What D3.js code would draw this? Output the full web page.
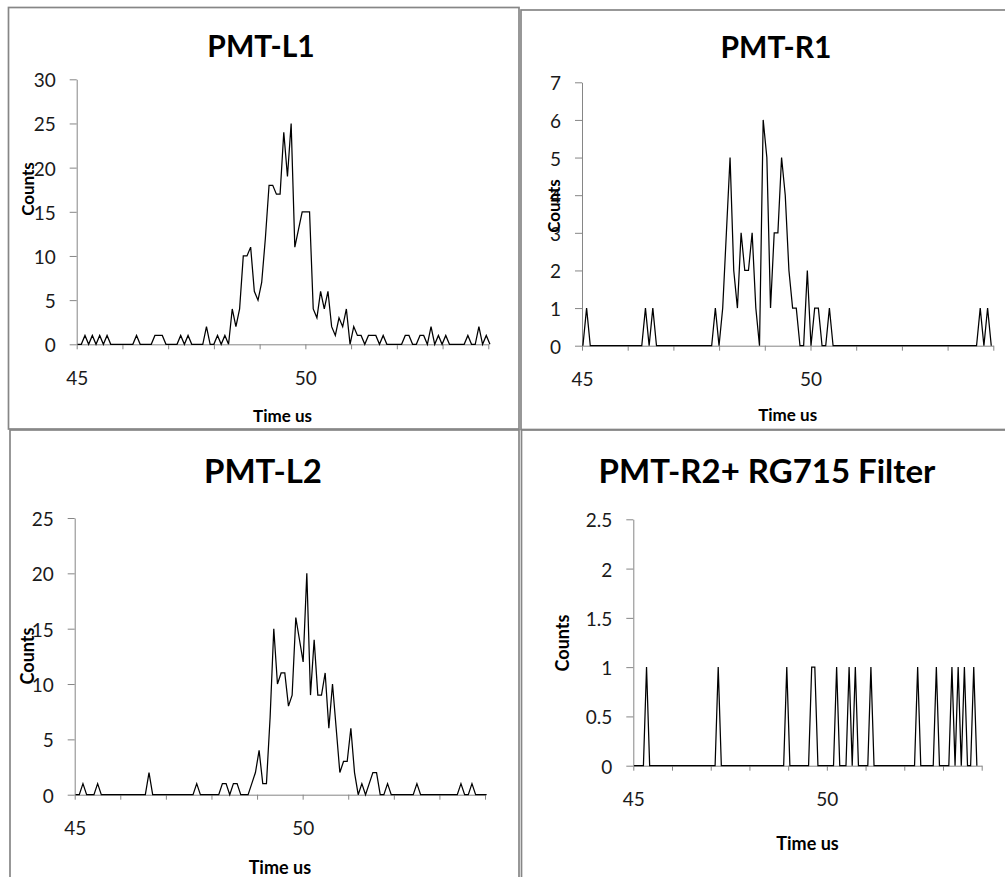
<!DOCTYPE html>
<html>
<head>
<meta charset="utf-8">
<script src="https://cdn.jsdelivr.net/npm/d3@7"></script>
<style>
  body { margin: 0; background: #fff; }
  svg { display: block; font-family: Lato, "Open Sans", sans-serif; }
</style>
</head>
<body>
<svg id="chart" width="1005" height="877"></svg>
<script>
// sample times: first bin and bin width (us)
const timeStart = 45.02;
const timeStep = 0.0805;

const titles = ["PMT-L1", "PMT-R1", "PMT-L2", "PMT-R2+ RG715 Filter"];

const countsL1 = [0,0,1,0,1,0,1,0,1,0,
  0,0,0,0,0,0,1,0,0,0,
  0,1,1,1,0,0,0,0,1,0,
  1,0,0,0,0,2,0,0,1,0,
  1,0,4,2,4,10,10,11,6,5,
  7,12,18,18,17,17,24,19,25,11,
  13,15,15,15,4,3,6,4,6,2,
  1,3,2,4,0,2,1,1,0,1,
  1,1,0,1,0,0,0,0,0,1,
  1,0,0,1,1,0,2,0,1,0,
  1,0,0,0,0,0,1,0,0,2,
  0,1,0];

const countsR1 = [0,1,0,0,0,0,0,0,0,0,
  0,0,0,0,0,0,0,1,0,1,
  0,0,0,0,0,0,0,0,0,0,
  0,0,0,0,0,0,1,0,1,3,
  5,2,1,3,2,2,3,1,0,6,
  5,1,3,3,5,4,2,1,1,0,
  0,2,0,1,1,0,0,1,0,0,
  0,0,0,0,0,0,0,0,0,0,
  0,0,0,0,0,0,0,0,0,0,
  0,0,0,0,0,0,0,0,0,0,
  0,0,0,0,0,0,0,0,1,0,
  1,0];

const countsL2 = [0,0,1,0,0,0,1,0,0,0,
  0,0,0,0,0,0,0,0,0,0,
  2,0,0,0,0,0,0,0,0,0,
  0,0,0,1,0,0,0,0,0,0,
  1,1,0,1,1,0,0,0,1,2,
  4,1,1,7,15,10,11,11,8,9,
  16,14,12,20,9,14,9,9,11,6,
  10,6,2,3,3,6,2,0,1,0,
  1,2,2,0,0,1,0,0,0,0,
  0,0,0,1,0,0,0,0,0,0,
  0,0,0,0,0,1,0,0,1,0,
  0,0,0];

const countsR2 = [0,0,0,0,1,0,0,0,0,0,
  0,0,0,0,0,0,0,0,0,0,
  0,0,0,0,0,0,0,1,0,0,
  0,0,0,0,0,0,0,0,0,0,
  0,0,0,0,0,0,0,0,0,1,
  0,0,0,0,0,0,0,1,1,0,
  0,0,0,0,0,1,0,0,0,1,
  0,1,0,0,0,0,1,0,0,0,
  0,0,0,0,0,0,0,0,0,0,
  0,1,0,0,0,0,0,1,0,0,
  0,0,1,0,1,0,1,0,0,1,
  0];

const xTicks = [45,46,47,48,49,50,51,52,53,54];
const xLabels = [45, 50];
const yTicksL1 = [0,5,10,15,20,25,30];
const yTicksR1 = [0,1,2,3,4,5,6,7];
const yTicksL2 = [0,5,10,15,20,25];
const yTicksR2 = [0,0.5,1,1.5,2,2.5];

const panels = [
  { counts: countsL1, title: titles[0], yTicks: yTicksL1,
    frame: [8.5, 7.5, 510.5, 421.5], plot: [76.7, 488.3, 79.3, 344.3],
    titleX: 261, titleY: 57, titleSize: 30, countsX: 27, countsY: 189, labelSize: 17, timeDy: 71 },
  { counts: countsR1, title: titles[1], yTicks: yTicksR1,
    frame: [521, 10, 500, 419.5], plot: [582, 993.3, 82.3, 345.7],
    titleX: 776, titleY: 58, titleSize: 30, countsX: 553, countsY: 206, labelSize: 17, timeDy: 69 },
  { counts: countsL2, title: titles[2], yTicks: yTicksL2,
    frame: [10, 430, 509, 460], plot: [74.7, 485, 518, 794.7],
    titleX: 263, titleY: 483, titleSize: 33, countsX: 27, countsY: 656, labelSize: 18, timeDy: 72 },
  { counts: countsR2, title: titles[3], yTicks: yTicksR2,
    frame: [521.5, 430, 500, 460], plot: [633.3, 981.7, 519.3, 765.7],
    titleX: 767, titleY: 483, titleSize: 33, countsX: 562, countsY: 643, labelSize: 18, timeDy: 77 }
];

const svg = d3.select("#chart");
const axisColor = "#868686";

panels.forEach(p => {
  const g = svg.append("g");

  // chart border
  g.append("rect")
    .attr("x", p.frame[0]).attr("y", p.frame[1])
    .attr("width", p.frame[2]).attr("height", p.frame[3])
    .attr("fill", "none")
    .attr("stroke", axisColor)
    .attr("stroke-width", 1.7);

  const x = d3.scaleLinear().domain([45, 54]).range([p.plot[0], p.plot[1]]);
  const y = d3.scaleLinear()
    .domain([0, p.yTicks[p.yTicks.length - 1]])
    .range([p.plot[3], p.plot[2]]);

  // y axis
  const yAxis = g.append("g")
    .attr("transform", `translate(${p.plot[0]},0)`)
    .call(d3.axisLeft(y).tickValues(p.yTicks).tickFormat(d => d)
      .tickSize(7).tickSizeOuter(0).tickPadding(14));
  yAxis.select(".domain").attr("stroke", axisColor);
  yAxis.selectAll(".tick line").attr("stroke", axisColor);
  yAxis.selectAll(".tick text")
    .attr("font-family", "Lato, 'Open Sans', sans-serif")
    .attr("font-size", 19)
    .attr("fill", "#1a1a1a")
    .attr("dy", null)
    .attr("dominant-baseline", "central");

  // x axis, minor ticks every 1 us, labels at 45 and 50
  const xAxis = g.append("g")
    .attr("transform", `translate(0,${p.plot[3]})`)
    .call(d3.axisBottom(x).tickValues(xTicks).tickSize(5).tickSizeOuter(0)
      .tickFormat(d => xLabels.includes(d) ? d : ""));
  xAxis.select(".domain").attr("stroke", axisColor);
  xAxis.selectAll(".tick line").attr("stroke", axisColor);
  xAxis.selectAll(".tick text")
    .attr("font-family", "Lato, 'Open Sans', sans-serif")
    .attr("font-size", 19)
    .attr("fill", "#1a1a1a")
    .attr("y", 33)
    .attr("dy", null)
    .attr("dominant-baseline", "central");

  // counts trace
  const line = d3.line()
    .x((d, i) => x(timeStart + i * timeStep))
    .y(d => y(d));

  g.append("path")
    .datum(p.counts)
    .attr("d", line)
    .attr("fill", "none")
    .attr("stroke", "#000")
    .attr("stroke-width", 1.25)
    .attr("stroke-linejoin", "miter");

  // titles
  g.append("text")
    .attr("x", p.titleX).attr("y", p.titleY)
    .attr("text-anchor", "middle")
    .attr("font-weight", "bold")
    .attr("font-size", p.titleSize)
    .attr("fill", "#000")
    .text(p.title);

  g.append("text")
    .attr("x", (p.plot[0] + p.plot[1]) / 2)
    .attr("y", p.plot[3] + p.timeDy)
    .attr("text-anchor", "middle")
    .attr("dominant-baseline", "central")
    .attr("font-weight", "bold")
    .attr("font-size", p.labelSize)
    .text("Time us");

  g.append("text")
    .attr("transform", `translate(${p.countsX},${p.countsY}) rotate(-90)`)
    .attr("text-anchor", "middle")
    .attr("dominant-baseline", "central")
    .attr("font-weight", "bold")
    .attr("font-size", p.labelSize)
    .text("Counts");
});
</script>
</body>
</html>
